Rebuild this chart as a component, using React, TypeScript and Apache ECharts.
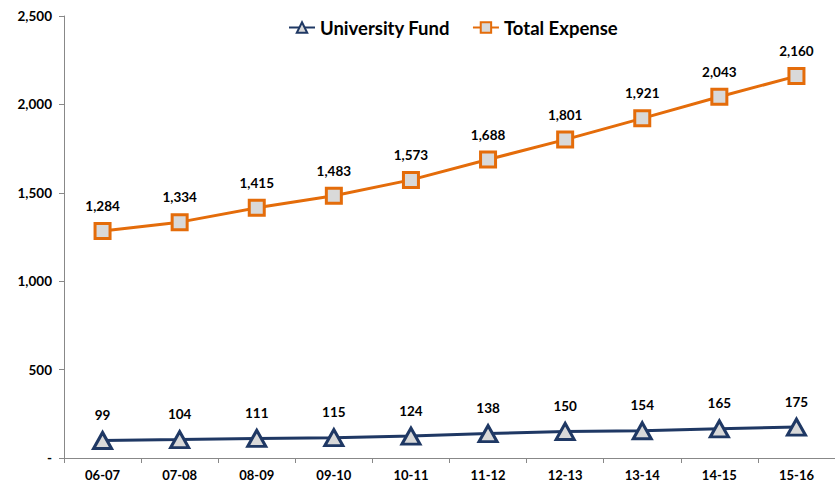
import React, { useEffect, useRef } from "react";
import * as echarts from "echarts";

const categories = ["06-07", "07-08", "08-09", "09-10", "10-11", "11-12", "12-13", "13-14", "14-15", "15-16"];
const universityFund = [99, 104, 111, 115, 124, 138, 150, 154, 165, 175];
const totalExpense = [1284, 1334, 1415, 1483, 1573, 1688, 1801, 1921, 2043, 2160];

const FONT = "Lato, 'Open Sans', sans-serif";
const fmt = (v: number) => (v === 0 ? "-" : v.toLocaleString("en-US"));

export default function App() {
  const ref = useRef<HTMLDivElement>(null);
  useEffect(() => {
    document.body.style.margin = "0";
    const chart = echarts.init(ref.current!, null, { renderer: "svg" });
    const labelStyle = {
      show: true,
      position: "top" as const,
      distance: 9,
      fontFamily: FONT,
      fontWeight: "bold" as const,
      fontSize: 13.5,
      color: "#000",
      formatter: (p: any) => fmt(p.value),
    };
    chart.setOption({
      animation: false,
      backgroundColor: "#fff",
      legend: {
        top: 13,
        left: 283,
        itemWidth: 26,
        itemHeight: 13,
        itemGap: 22,
        textStyle: { fontFamily: FONT, fontWeight: "bold", fontSize: 18.5, color: "#000" },
        data: ["University Fund", "Total Expense"],
      },
      grid: { left: 64, right: -3, top: 16, bottom: 28, containLabel: false },
      xAxis: {
        type: "category",
        data: categories,
        boundaryGap: true,
        axisLine: { lineStyle: { color: "#888", width: 1 } },
        axisTick: { show: true, alignWithLabel: false, length: 5, lineStyle: { color: "#888" } },
        axisLabel: { fontFamily: FONT, fontWeight: "bold", fontSize: 13, color: "#000", margin: 10 },
        splitLine: { show: false },
      },
      yAxis: {
        type: "value",
        min: 0,
        max: 2500,
        interval: 500,
        axisLine: { show: true, lineStyle: { color: "#888", width: 1 } },
        axisTick: { show: true, length: 5, lineStyle: { color: "#888" } },
        axisLabel: {
          fontFamily: FONT,
          fontWeight: "bold",
          fontSize: 13.5,
          color: "#000",
          margin: 12,
          formatter: (v: number) => fmt(v),
        },
        splitLine: { show: false },
      },
      series: [
        {
          name: "University Fund",
          type: "line",
          data: universityFund,
          symbol: "triangle",
          symbolSize: [18, 16],
          lineStyle: { color: "#1f3864", width: 3 },
          itemStyle: { color: "#d9d9d9", borderColor: "#1f3864", borderWidth: 3 },
          label: labelStyle,
        },
        {
          name: "Total Expense",
          type: "line",
          data: totalExpense,
          symbol: "rect",
          symbolSize: 15,
          lineStyle: { color: "#e46c0a", width: 3 },
          itemStyle: { color: "#d9d9d9", borderColor: "#e46c0a", borderWidth: 3 },
          label: labelStyle,
        },
      ],
    });
    return () => chart.dispose();
  }, []);
  return <div ref={ref} style={{ width: 835, height: 486 }} />;
}
